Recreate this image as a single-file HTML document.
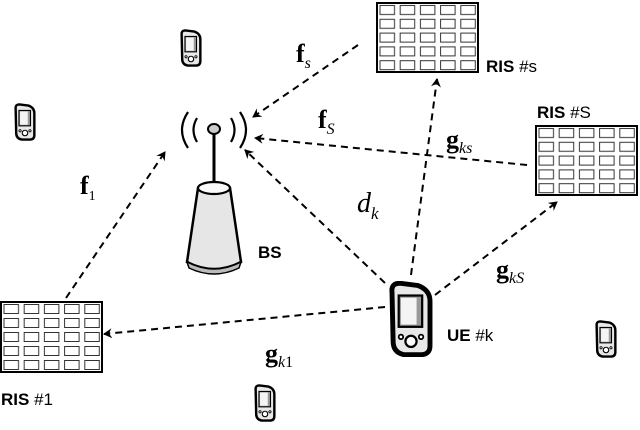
<!DOCTYPE html>
<html><head><meta charset="utf-8"><style>
html,body{margin:0;padding:0;background:#fff;}
svg{display:block;}
.lbl{font-family:"Liberation Sans",sans-serif;font-size:17px;}
.m{font-family:"Liberation Serif",serif;}
</style></head><body>
<svg width="640" height="430" viewBox="0 0 640 430" xmlns="http://www.w3.org/2000/svg">
<defs>
<pattern id="cells" x="0" y="0" width="0.2" height="0.2" patternUnits="objectBoundingBox">
<rect x="3" y="2.5" width="14.5" height="9" fill="#fff" stroke="#333" stroke-width="1"/>
</pattern>
<marker id="ah" markerWidth="10" markerHeight="10" refX="8" refY="5" orient="auto" markerUnits="userSpaceOnUse">
<path d="M0,0 L9,5 L0,10 L3,5 Z" fill="#000"/>
</marker>
<symbol id="phone" viewBox="0 0 20 34">
<path d="M5,1 Q1,1 1.5,5 L2,27 Q2,32 7,33 L14,33 Q18.5,33 18.5,29 L18.5,9 Q18.5,4 13,2 Z" fill="#e8e8e8" stroke="#000" stroke-width="2.2"/>
<rect x="4.5" y="6.5" width="10.5" height="14" fill="#999" stroke="#000" stroke-width="1"/>
<rect x="5.5" y="7.5" width="7" height="12" fill="#f4f4f4"/>
<circle cx="10" cy="27" r="2.5" fill="#fff" stroke="#000" stroke-width="1"/>
<circle cx="5.5" cy="25" r="1" fill="#fff" stroke="#000" stroke-width="0.8"/>
<circle cx="14.5" cy="25" r="1" fill="#fff" stroke="#000" stroke-width="0.8"/>
</symbol>
</defs>

<!-- RIS panels -->
<g stroke="#000" stroke-width="2">
<rect x="377" y="3" width="101" height="69" fill="url(#cells)"/>
<rect x="536" y="126" width="101" height="69" fill="url(#cells)"/>
<rect x="1" y="302" width="101" height="70" fill="url(#cells)"/>
</g>

<!-- arrows -->
<g stroke="#000" stroke-width="2" stroke-dasharray="7,5" fill="none" marker-end="url(#ah)">
<line x1="358" y1="45" x2="253" y2="117"/>
<line x1="527" y1="165" x2="255" y2="138"/>
<line x1="66" y1="298" x2="165" y2="152"/>
<line x1="385" y1="283" x2="245" y2="150"/>
<line x1="411" y1="275" x2="437" y2="79"/>
<line x1="435" y1="295" x2="557" y2="202"/>
<line x1="385" y1="307" x2="104" y2="334"/>
</g>

<!-- BS -->
<g fill="none" stroke="#000" stroke-width="2.2">
<path d="M188,112 Q176,130 188,148"/>
<path d="M197,118 Q190,130 197,142"/>
<path d="M231,118 Q238,130 231,142"/>
<path d="M240,112 Q252,130 240,148"/>
</g>
<line x1="214" y1="132" x2="214" y2="185" stroke="#000" stroke-width="3"/>
<ellipse cx="214" cy="129" rx="6" ry="5" fill="#ccc" stroke="#000" stroke-width="2"/>
<path d="M198,188 L187,262 Q214,276 241,262 L230,188 Z" fill="#e6e6e6" stroke="#000" stroke-width="2.5"/>
<path d="M187,262 Q214,276 241,262 L239,268 Q214,280 189,268 Z" fill="#bbb" stroke="#000" stroke-width="1.5"/>
<ellipse cx="214" cy="188" rx="16" ry="6" fill="#fafafa" stroke="#000" stroke-width="2.2"/>
<text x="258" y="258" class="lbl" font-weight="bold">BS</text>

<!-- UE -->
<use href="#phone" x="388" y="281" width="46" height="76"/>
<text x="447" y="341" class="lbl"><tspan font-weight="bold">UE</tspan> #k</text>

<!-- small phones -->
<use href="#phone" x="180" y="29" width="22" height="38"/>
<use href="#phone" x="14" y="103" width="22" height="38"/>
<use href="#phone" x="595" y="320" width="22" height="38"/>
<use href="#phone" x="254" y="384" width="22" height="38"/>

<!-- RIS labels -->
<text x="486" y="72" class="lbl"><tspan font-weight="bold">RIS</tspan> #s</text>
<text x="537" y="118" class="lbl"><tspan font-weight="bold">RIS</tspan> #S</text>
<text x="1" y="405" class="lbl"><tspan font-weight="bold">RIS</tspan> #1</text>

<!-- math labels -->
<text x="296" y="62" class="m" font-size="26" font-weight="bold">f<tspan font-size="16" font-style="italic" font-weight="normal" dy="6">s</tspan></text>
<text x="318" y="128" class="m" font-size="26" font-weight="bold">f<tspan font-size="16" font-style="italic" font-weight="normal" dy="6">S</tspan></text>
<text x="80" y="194" class="m" font-size="26" font-weight="bold">f<tspan font-size="14" font-weight="normal" dy="6">1</tspan></text>
<text x="357" y="212" class="m" font-size="28" font-style="italic">d<tspan font-size="17" dy="7">k</tspan></text>
<text x="446" y="148" class="m" font-size="26" font-weight="bold">g<tspan font-size="16" font-style="italic" font-weight="normal" dy="5">ks</tspan></text>
<text x="496" y="278" class="m" font-size="26" font-weight="bold">g<tspan font-size="16" font-style="italic" font-weight="normal" dy="5">kS</tspan></text>
<text x="265" y="362" class="m" font-size="26" font-weight="bold">g<tspan font-size="16" font-style="italic" font-weight="normal" dy="5">k</tspan><tspan font-size="16" font-weight="normal">1</tspan></text>
</svg>
</body></html>
